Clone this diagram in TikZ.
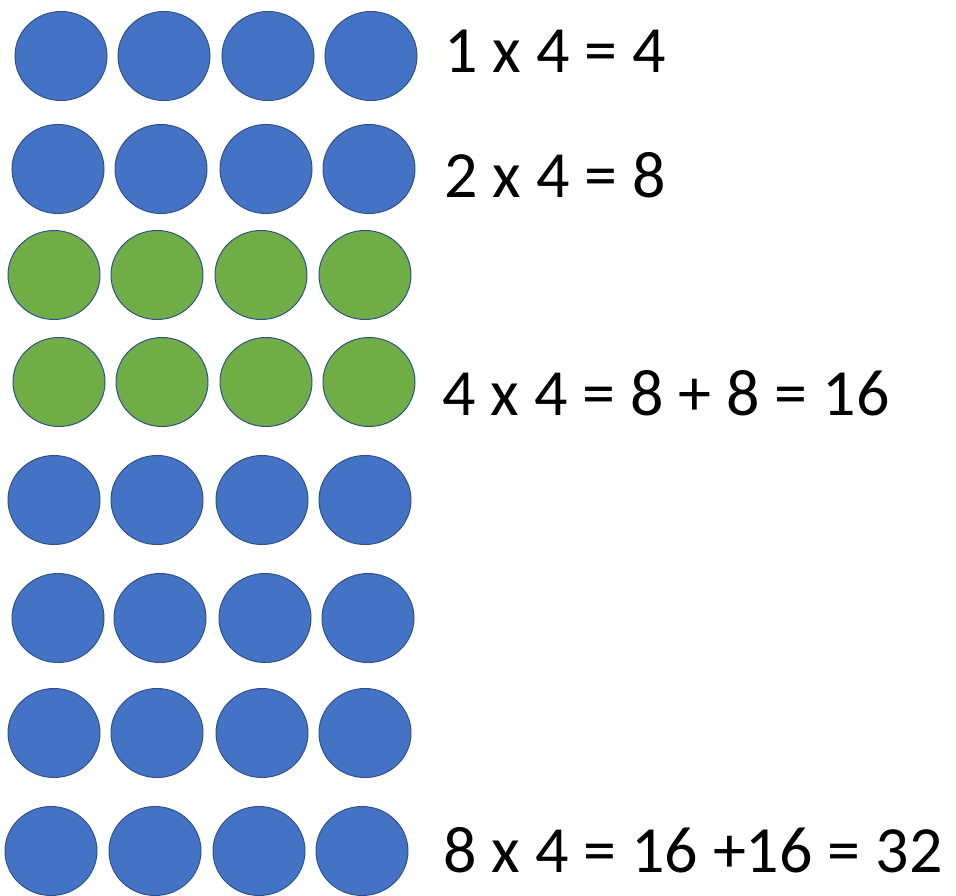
\documentclass[tikz,border=0pt]{standalone}
\usepackage{fontspec}
\setmainfont{Carlito}
\usetikzlibrary{shapes.geometric}
\definecolor{dotblue}{HTML}{4472C4}
\definecolor{dotgreen}{HTML}{70AD47}
\definecolor{dotedge}{HTML}{2F528F}
\tikzset{
  dot/.style={ellipse, draw=dotedge, line width=1pt, minimum width=92pt, minimum height=89pt, inner sep=0pt},
  bdot/.style={dot, fill=dotblue},
  gdot/.style={dot, fill=dotgreen},
  eqn/.style={anchor=base west, inner sep=0pt, font=\fontsize{66}{79}\selectfont}
}
\begin{document}
\begin{tikzpicture}[x=1pt,y=-1pt]
\useasboundingbox (0,0) rectangle (956,895);
% row 1
\node[bdot] (r1a) at (61,56) {};
\node[bdot] (r1b) at (164,56) {};
\node[bdot] (r1c) at (268,56) {};
\node[bdot] (r1d) at (371,56) {};
% row 2
\node[bdot] (r2a) at (58,169) {};
\node[bdot] (r2b) at (161,169) {};
\node[bdot] (r2c) at (266,169) {};
\node[bdot] (r2d) at (369,169) {};
% row 3
\node[gdot] (r3a) at (54,275) {};
\node[gdot] (r3b) at (157,275) {};
\node[gdot] (r3c) at (261,275) {};
\node[gdot] (r3d) at (365,275) {};
% row 4
\node[gdot] (r4a) at (59,382) {};
\node[gdot] (r4b) at (162,382) {};
\node[gdot] (r4c) at (266,382) {};
\node[gdot] (r4d) at (369,382) {};
% row 5
\node[bdot] (r5a) at (54,500) {};
\node[bdot] (r5b) at (157,500) {};
\node[bdot] (r5c) at (262,500) {};
\node[bdot] (r5d) at (365,500) {};
% row 6
\node[bdot] (r6a) at (58,618) {};
\node[bdot] (r6b) at (160,618) {};
\node[bdot] (r6c) at (265,618) {};
\node[bdot] (r6d) at (368,618) {};
% row 7
\node[bdot] (r7a) at (54,733) {};
\node[bdot] (r7b) at (157,733) {};
\node[bdot] (r7c) at (262,733) {};
\node[bdot] (r7d) at (365,733) {};
% row 8
\node[bdot] (r8a) at (51,851) {};
\node[bdot] (r8b) at (155,851) {};
\node[bdot] (r8c) at (259,851) {};
\node[bdot] (r8d) at (362,851) {};
% equations
\node[eqn] (e1) at (444,72) {1 x 4 = 4};
\node[eqn] (e2) at (444,197) {2 x 4 = 8};
\node[eqn] (e3) at (442,415) {4 x 4 = 8 + 8 = 16};
\node[eqn] (e4) at (443,872) {8 x 4 = 16 +16 = 32};
\end{tikzpicture}
\end{document}
